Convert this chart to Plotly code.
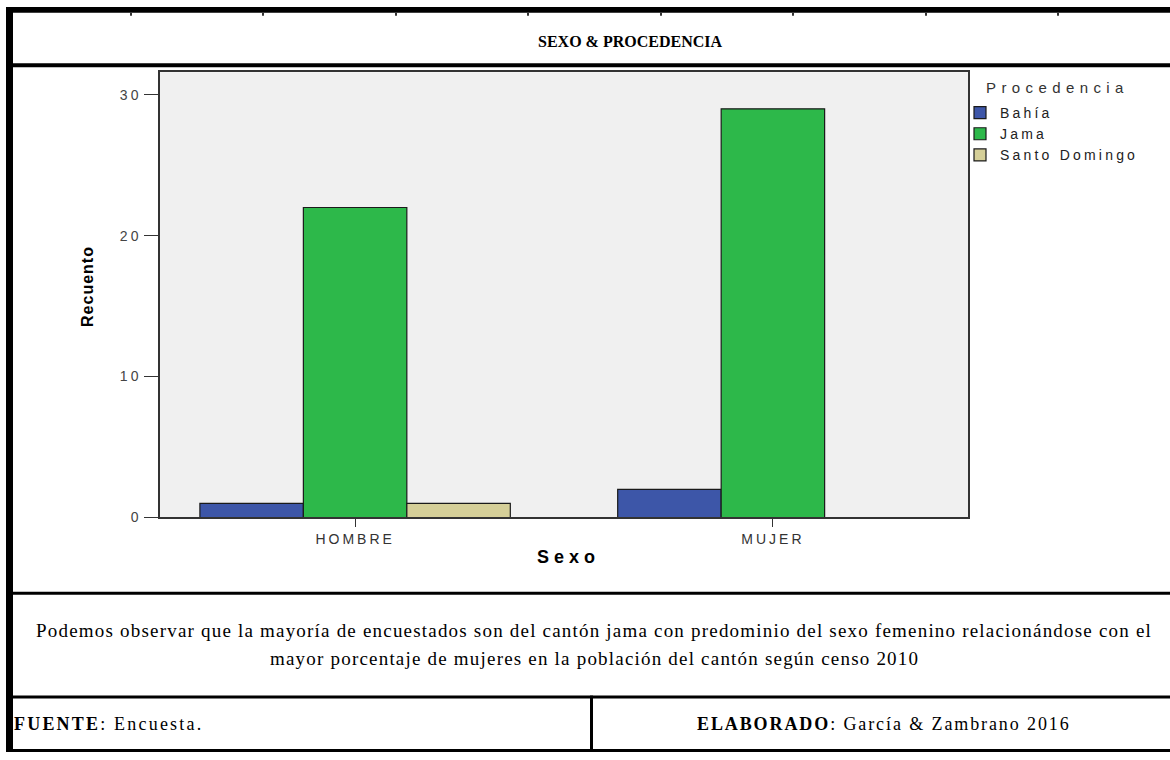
import plotly.graph_objects as go

# datos
sexo = ["HOMBRE", "MUJER"]
procedencia = ["Bahía", "Jama", "Santo Domingo"]
bahia = [1, 2]
jama = [22, 29]
santo_domingo = [1, 0]
ticks_y = [0, 10, 20, 30]
colores = ["#3d56a8", "#2db84a", "#d5cf98"]

W, H = 1170, 760


def px(x):
    return x / W


def py(y):
    return 1 - y / H


def esp(texto, ls):
    # separación entre letras (el original está estirado en horizontal)
    return f"<span style='letter-spacing:{ls}px'>{texto}</span>"


fig = go.Figure()
for nombre, vals, col in zip(procedencia, [bahia, jama, santo_domingo], colores):
    fig.add_trace(go.Bar(
        name=esp(nombre, 3.2), x=sexo, y=vals,
        marker=dict(color=col, line=dict(color="#1a1a1a", width=1.2)),
    ))

# marco de la tabla
rects = [
    (6, 7, 1170, 13),     # borde superior
    (6, 7, 13, 760),      # borde izquierdo
    (6, 64, 1170, 68),    # bajo el título
    (6, 598, 1170, 601),  # bajo el gráfico
    (6, 703, 1170, 706),  # bajo el comentario
    (6, 757, 1170, 760),  # borde inferior
    (590, 703, 593, 760),  # división fuente / elaborado
]
shapes = [dict(type="rect", xref="paper", yref="paper",
               x0=px(a), y0=py(d), x1=px(c), y1=py(b),
               fillcolor="black", line=dict(width=0)) for a, b, c, d in rects]
for xt in [130, 262, 395, 527, 660, 792, 925, 1057]:
    shapes.append(dict(type="rect", xref="paper", yref="paper",
                       x0=px(xt), x1=px(xt + 2), y0=py(16), y1=py(13),
                       fillcolor="#333", line=dict(width=0)))

serif = "Liberation Serif, Times New Roman, serif"
sans = "Liberation Sans, Arial, sans-serif"

annotations = [
    dict(text="<b>SEXO & PROCEDENCIA</b>", x=px(630), y=py(42), font=dict(family=serif, size=16, color="black")),
    dict(text=esp("Recuento", 1), x=px(88), y=py(290), textangle=-90,
         font=dict(family=sans, size=16, color="black", weight="bold")),
    dict(text=esp("Sexo", 5), x=px(568), y=py(563), font=dict(family=sans, size=18, color="black", weight="bold")),
    dict(text=esp("Procedencia", 5.4), x=px(984), y=py(88), xanchor="left", font=dict(family=sans, size=15, color="#333")),
    dict(text=esp("Podemos observar que la mayoría de encuestados son del cantón jama con predominio del sexo femenino relacionándose con el", 1.2),
         x=px(594), y=py(637), font=dict(family=serif, size=19, color="black")),
    dict(text=esp("mayor porcentaje de mujeres en la población del cantón según censo 2010", 1.2),
         x=px(594), y=py(665), font=dict(family=serif, size=19, color="black")),
    dict(text=esp("<b>FUENTE</b>: Encuesta.", 2.2), x=px(12), y=py(732), xanchor="left",
         font=dict(family=serif, size=18, color="black")),
    dict(text=esp("<b>ELABORADO</b>: García & Zambrano 2016", 1.9), x=px(884), y=py(732),
         font=dict(family=serif, size=18, color="black")),
]
for a in annotations:
    a.update(xref="paper", yref="paper", showarrow=False)
    a.setdefault("xanchor", "center")
    a.setdefault("yanchor", "middle")

fig.update_layout(
    width=W, height=H,
    margin=dict(l=0, r=0, t=0, b=0),
    paper_bgcolor="white",
    plot_bgcolor="#f0f0f0",
    barmode="group", bargap=0.257, bargroupgap=0,
    font=dict(family=sans, size=12, color="#333"),
    xaxis=dict(domain=[px(160), px(968)], range=[-0.467, 1.467],
               tickvals=sexo, ticktext=[esp(s, 3) for s in sexo],
               showline=True, mirror=True, linecolor="#333", linewidth=1.5,
               ticks="outside", ticklen=8, tickcolor="#333", showgrid=False,
               tickfont=dict(size=14, color="#333")),
    yaxis=dict(domain=[py(523), py(73)], range=[0, 31.6],
               tickvals=ticks_y, ticktext=[esp(t, 3) for t in ticks_y],
               showline=True, mirror=True,
               linecolor="#333", linewidth=1.5, ticks="outside", ticklen=14,
               tickcolor="#333", showgrid=False, zeroline=False,
               tickfont=dict(size=14, color="#444")),
    legend=dict(x=px(960), y=py(98), xanchor="left", yanchor="top",
                font=dict(family=sans, size=14, color="#222"),
                bgcolor="rgba(0,0,0,0)", tracegroupgap=0, itemwidth=30),
    shapes=shapes,
    annotations=annotations,
)

# sin margen de página para que la figura ocupe la ventana entera
fig.write_html("out.html", config={"displayModeBar": False},
               post_script="document.body.style.margin='0';document.body.style.overflow='hidden';")
